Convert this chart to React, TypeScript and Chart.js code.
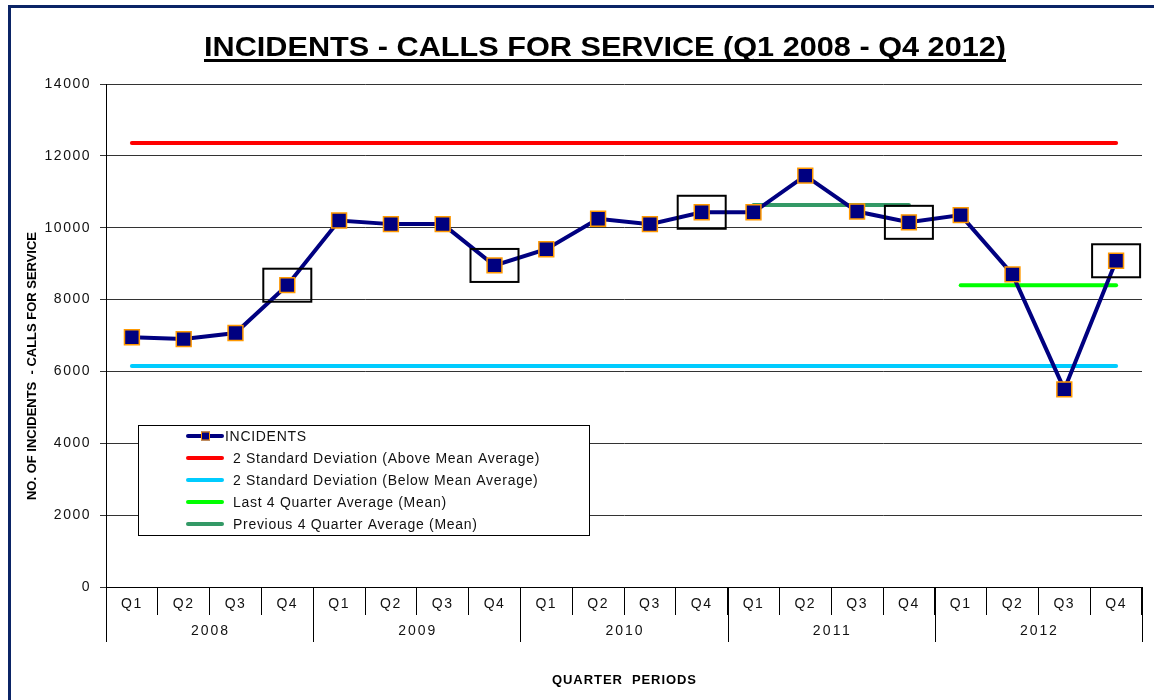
import React, { useEffect, useRef } from "react";
import { Chart, registerables } from "chart.js";

Chart.register(...registerables);

const quarters = [
  "Q1", "Q2", "Q3", "Q4",
  "Q1", "Q2", "Q3", "Q4",
  "Q1", "Q2", "Q3", "Q4",
  "Q1", "Q2", "Q3", "Q4",
  "Q1", "Q2", "Q3", "Q4",
];
const years = ["2008", "2009", "2010", "2011", "2012"];
const incidents = [
  6950, 6900, 7070, 8400,
  10200, 10100, 10100, 8950,
  9400, 10250, 10100, 10430,
  10430, 11450, 10450, 10150,
  10350, 8700, 5500, 9080,
];
const upperSDValue = 12360;
const lowerSDValue = 6150;
const upperSD = quarters.map(() => upperSDValue);
const lowerSD = quarters.map(() => lowerSDValue);
const lastFourAvg = [
  null, null, null, null,
  null, null, null, null,
  null, null, null, null,
  null, null, null, null,
  8400, 8400, 8400, 8400,
];
const prevFourAvg = [
  null, null, null, null,
  null, null, null, null,
  null, null, null, null,
  10630, 10630, 10630, 10630,
  null, null, null, null,
];
const highlighted = [3, 7, 11, 15, 19];
const yTicks = [0, 2000, 4000, 6000, 8000, 10000, 12000, 14000];

const titleText = "INCIDENTS - CALLS FOR SERVICE (Q1 2008 - Q4 2012)";
const yTitleText = "NO. OF INCIDENTS  - CALLS FOR SERVICE";
const xTitleText = "QUARTER  PERIODS";
const legendLabels = [
  "INCIDENTS",
  "2 Standard Deviation (Above Mean Average)",
  "2 Standard Deviation (Below Mean Average)",
  "Last 4 Quarter Average (Mean)",
  "Previous 4 Quarter Average (Mean)",
];

const FONT = "'Liberation Sans', Arial, sans-serif";
const NAVY = "#000080";
const ORANGE = "#FF9900";

function spacedText(ctx: any, text: string, x: number, y: number, targetWidth: number) {
  ctx.letterSpacing = "0px";
  const w = ctx.measureText(text).width;
  const s = Math.max(0, (targetWidth - w) / Math.max(1, text.length - 1));
  ctx.letterSpacing = `${s}px`;
  const align = ctx.textAlign;
  ctx.textAlign = "left";
  let sx = x;
  if (align === "center") sx = x - targetWidth / 2;
  else if (align === "right") sx = x - targetWidth;
  ctx.fillText(text, sx, y);
  ctx.textAlign = align;
  ctx.letterSpacing = "0px";
}

function stretchedText(ctx: any, text: string, cx: number, y: number, targetWidth: number) {
  ctx.letterSpacing = "0px";
  const w = ctx.measureText(text).width;
  ctx.save();
  ctx.translate(cx, y);
  ctx.scale(targetWidth / w, 1);
  ctx.textAlign = "center";
  ctx.fillText(text, 0, 0);
  ctx.restore();
}

const decorPlugin = {
  id: "decor",
  beforeDraw(chart: any) {
    const ctx = chart.ctx;
    ctx.save();
    ctx.fillStyle = "#ffffff";
    ctx.fillRect(0, 0, chart.width, chart.height);
    ctx.fillStyle = "#0b2466";
    ctx.fillRect(8, 5, 3, chart.height - 5);
    ctx.fillRect(8, 5, chart.width - 8, 3);
    ctx.restore();
    ctx.letterSpacing = "1.5px";
  },
  beforeDatasetsDraw(chart: any) {
    chart.ctx.letterSpacing = "0px";
  },
  afterDatasetsDraw(chart: any) {
    const ctx = chart.ctx;
    const meta = chart.getDatasetMeta(0);
    ctx.save();
    ctx.strokeStyle = "#000";
    ctx.lineWidth = 2;
    highlighted.forEach((i) => {
      const p = meta.data[i];
      if (!p) return;
      ctx.strokeRect(p.x - 24, p.y - 16.5, 48, 33);
    });
    ctx.restore();
  },
  afterDraw(chart: any) {
    const ctx = chart.ctx;
    const xs = chart.scales.x;
    const area = chart.chartArea;
    ctx.save();
    ctx.letterSpacing = "0px";

    // Title with underline
    ctx.font = `bold 27px ${FONT}`;
    ctx.fillStyle = "#000";
    ctx.textAlign = "center";
    ctx.textBaseline = "alphabetic";
    const tx = 605;
    const ty = 56;
    const tw = 802;
    stretchedText(ctx, titleText, tx, ty, tw);
    ctx.fillRect(tx - tw / 2, ty + 3, tw, 3);

    // Year row
    const w = xs.getPixelForValue(1) - xs.getPixelForValue(0);
    const boundary = (k: number) =>
      k >= quarters.length
        ? xs.getPixelForValue(quarters.length - 1) + w / 2
        : xs.getPixelForValue(k) - w / 2;
    ctx.strokeStyle = "#000";
    ctx.lineWidth = 1;
    for (let k = 0; k <= years.length; k++) {
      const bx = Math.round(boundary(k * 4)) + 0.5;
      ctx.beginPath();
      ctx.moveTo(bx, area.bottom);
      ctx.lineTo(bx, area.bottom + 55);
      ctx.stroke();
    }
    ctx.font = `14px ${FONT}`;
    ctx.fillStyle = "#111";
    ctx.textBaseline = "middle";
    years.forEach((yr, k) => {
      spacedText(ctx, yr, boundary(k * 4 + 2), area.bottom + 44, 37);
    });

    // X title
    ctx.font = `bold 13px ${FONT}`;
    ctx.fillStyle = "#000";
    spacedText(ctx, xTitleText, (area.left + area.right) / 2, 680, 144);

    // Y title (rotated, condensed)
    ctx.save();
    ctx.translate(32, 366);
    ctx.rotate(-Math.PI / 2);
    ctx.font = `bold 13px 'Liberation Sans Narrow', ${FONT}`;
    const yw = ctx.measureText(yTitleText).width;
    const target = 268;
    ctx.scale(target / yw, 1);
    ctx.fillText(yTitleText, 0, 0);
    ctx.restore();

    // Legend
    const lx = 138, ly = 425, lw = 451, lh = 110;
    ctx.fillStyle = "#fff";
    ctx.fillRect(lx, ly, lw, lh);
    ctx.strokeStyle = "#000";
    ctx.lineWidth = 1;
    ctx.strokeRect(lx + 0.5, ly + 0.5, lw, lh);
    ctx.font = `14px ${FONT}`;
    ctx.textAlign = "left";
    ctx.textBaseline = "middle";
    chart.data.datasets.forEach((ds: any, i: number) => {
      const ry = ly + 11 + i * 22;
      ctx.strokeStyle = ds.borderColor;
      ctx.lineWidth = 4;
      ctx.lineCap = "round";
      ctx.beginPath();
      ctx.moveTo(188, ry);
      ctx.lineTo(222, ry);
      ctx.stroke();
      if (i === 0) {
        ctx.fillStyle = NAVY;
        ctx.fillRect(201, ry - 4.5, 9, 9);
        ctx.strokeStyle = ORANGE;
        ctx.lineWidth = 1;
        ctx.strokeRect(201.5, ry - 4, 8, 8);
      }
      ctx.fillStyle = "#111";
      ctx.letterSpacing = "0.7px";
      ctx.fillText(legendLabels[i], i === 0 ? 225 : 233, ry + 1);
      ctx.letterSpacing = "0px";
    });

    ctx.restore();
  },
};

export default function App() {
  const ref = useRef<HTMLCanvasElement | null>(null);

  useEffect(() => {
    if (!ref.current) return;
    const lineBase = {
      borderWidth: 4,
      pointRadius: 0,
      pointHoverRadius: 0,
      borderCapStyle: "round" as const,
      fill: false,
      spanGaps: false,
    };
    const chart = new Chart(ref.current, {
      type: "line",
      data: {
        labels: quarters,
        datasets: [
          {
            label: legendLabels[0],
            data: incidents,
            borderColor: NAVY,
            backgroundColor: NAVY,
            borderWidth: 4,
            pointStyle: "rect",
            pointRadius: 10.5,
            pointBackgroundColor: NAVY,
            pointBorderColor: ORANGE,
            pointBorderWidth: 1.5,
            fill: false,
            tension: 0,
          },
          { ...lineBase, label: legendLabels[1], data: upperSD, borderColor: "#FF0000" },
          { ...lineBase, label: legendLabels[2], data: lowerSD, borderColor: "#00CCFF" },
          { ...lineBase, label: legendLabels[3], data: lastFourAvg, borderColor: "#00FF00" },
          { ...lineBase, label: legendLabels[4], data: prevFourAvg, borderColor: "#339966" },
        ],
      },
      options: {
        responsive: false,
        animation: false,
        events: [],
        layout: { padding: { top: 84, left: 0, right: 11, bottom: 0 } },
        plugins: {
          legend: { display: false },
          title: { display: false },
          tooltip: { enabled: false },
        },
        scales: {
          x: {
            type: "category",
            offset: true,
            grid: {
              offset: true,
              drawOnChartArea: false,
              tickLength: 28,
              color: "#000",
              lineWidth: 1,
            },
            border: { color: "#000", width: 1 },
            ticks: {
              autoSkip: false,
              maxRotation: 0,
              padding: -19,
              color: "#111",
              font: { family: FONT, size: 14 },
            },
            afterFit: (scale: any) => {
              scale.height = 113;
            },
          },
          y: {
            min: 0,
            max: 14000,
            afterBuildTicks: (scale: any) => {
              scale.ticks = yTicks.map((v) => ({ value: v }));
            },
            grid: {
              color: "#333",
              lineWidth: 1,
              tickLength: 6,
            },
            border: { color: "#000", width: 1 },
            ticks: {
              padding: 9,
              color: "#111",
              font: { family: FONT, size: 14 },
              callback: (v: any) => String(v),
            },
            afterFit: (scale: any) => {
              scale.width = 106;
            },
          },
        },
      },
      plugins: [decorPlugin],
    });
    return () => chart.destroy();
  }, []);

  return (
    <div style={{ position: "fixed", left: 0, top: 0, width: 1154, height: 700, background: "#fff" }}>
      <canvas ref={ref} width={1154} height={700} style={{ width: 1154, height: 700, display: "block" }} />
    </div>
  );
}
